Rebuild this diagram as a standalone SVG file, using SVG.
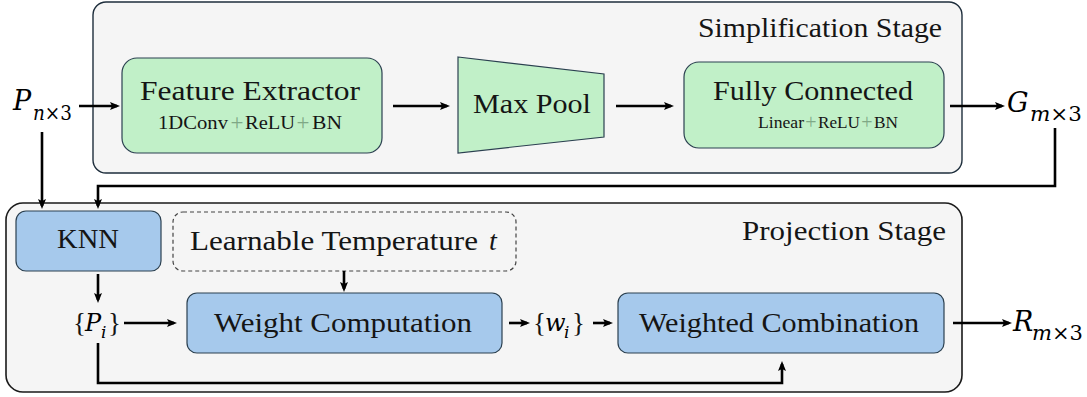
<svg xmlns="http://www.w3.org/2000/svg" width="1087" height="397" viewBox="0 0 1087 397" font-family="'Liberation Serif', 'DejaVu Serif', serif">
  <defs>
    <marker id="arr" viewBox="0 0 10 8" refX="7" refY="4" markerWidth="10" markerHeight="8" markerUnits="userSpaceOnUse" orient="auto">
      <path d="M0,0 L10,4 L0,8 L2,4 z" fill="#000"/>
    </marker>
    <style>
      .stage { fill: #f5f5f5; stroke: #1e2e3c; stroke-width: 1.4; }
      .stage2 { fill: #f5f5f5; stroke: #1a1a1a; stroke-width: 1.6; }
      .green { fill: #c1f0c8; stroke: #2b4050; stroke-width: 1.2; }
      .blue { fill: #a6c9ec; stroke: #2b4050; stroke-width: 1.2; }
      .dash { fill: none; stroke: #444; stroke-width: 1.2; stroke-dasharray: 4 3; }
      .lbl { fill: #151515; }
      .sub { fill: #151515; }
      .plus { fill: #7fa886; }
      .math { fill: #000; font-family: 'DejaVu Serif', 'Liberation Serif', serif; }
      .conn { fill: none; stroke: #000; stroke-width: 2.6; }
      .arr { marker-end: url(#arr); }
    </style>
  </defs>

  <!-- stage frames -->
  <g id="simplification-stage">
    <rect class="stage" x="93" y="2" width="869" height="171" rx="13"/>
    <text class="lbl" font-size="27" x="698" y="37" textLength="244" lengthAdjust="spacingAndGlyphs">Simplification Stage</text>
  </g>
  <g id="projection-stage">
    <rect class="stage2" x="6" y="203" width="956" height="189" rx="17"/>
    <text class="lbl" font-size="27" x="742" y="240" textLength="204" lengthAdjust="spacingAndGlyphs">Projection Stage</text>
  </g>

  <!-- simplification nodes -->
  <g id="feature-extractor">
    <rect class="green" x="122" y="58" width="260" height="95" rx="15"/>
    <text class="lbl" font-size="27" x="140" y="100" textLength="220" lengthAdjust="spacingAndGlyphs">Feature Extractor</text>
    <text class="sub" font-size="19" x="158" y="129" textLength="70" lengthAdjust="spacingAndGlyphs">1DConv</text>
    <text class="plus" font-size="23" x="237" y="130" text-anchor="middle">+</text>
    <text class="sub" font-size="19" x="245" y="129" textLength="50" lengthAdjust="spacingAndGlyphs">ReLU</text>
    <text class="plus" font-size="23" x="303" y="130" text-anchor="middle">+</text>
    <text class="sub" font-size="19" x="312" y="129" textLength="30" lengthAdjust="spacingAndGlyphs">BN</text>
  </g>
  <g id="max-pool">
    <polygon class="green" points="458,57 604,74 604,137 458,153"/>
    <text class="lbl" font-size="27" x="473" y="113" textLength="118" lengthAdjust="spacingAndGlyphs">Max Pool</text>
  </g>
  <g id="fully-connected">
    <rect class="green" x="684" y="62" width="260" height="86" rx="15"/>
    <text class="lbl" font-size="27" x="713" y="100" textLength="200" lengthAdjust="spacingAndGlyphs">Fully Connected</text>
    <text class="sub" font-size="17" x="758" y="128" textLength="46" lengthAdjust="spacingAndGlyphs">Linear</text>
    <text class="plus" font-size="20" x="811" y="129" text-anchor="middle">+</text>
    <text class="sub" font-size="17" x="818" y="128" textLength="42" lengthAdjust="spacingAndGlyphs">ReLU</text>
    <text class="plus" font-size="20" x="867" y="129" text-anchor="middle">+</text>
    <text class="sub" font-size="17" x="874" y="128" textLength="24" lengthAdjust="spacingAndGlyphs">BN</text>
  </g>

  <!-- projection nodes -->
  <g id="knn">
    <rect class="blue" x="16" y="211" width="145" height="60" rx="10"/>
    <text class="lbl" font-size="27" x="57" y="248" textLength="62" lengthAdjust="spacingAndGlyphs">KNN</text>
  </g>
  <g id="temperature">
    <rect class="dash" x="173" y="212" width="343" height="59" rx="10"/>
    <text class="lbl" font-size="27" x="190" y="250" textLength="288" lengthAdjust="spacingAndGlyphs">Learnable Temperature</text>
    <text class="lbl" font-size="28" font-style="italic" x="489" y="250">t</text>
  </g>
  <g id="weight-computation">
    <rect class="blue" x="187" y="293" width="315" height="60" rx="10"/>
    <text class="lbl" font-size="27" x="214" y="332" textLength="258" lengthAdjust="spacingAndGlyphs">Weight Computation</text>
  </g>
  <g id="weighted-combination">
    <rect class="blue" x="618" y="293" width="326" height="60" rx="10"/>
    <text class="lbl" font-size="27" x="639" y="332" textLength="280" lengthAdjust="spacingAndGlyphs">Weighted Combination</text>
  </g>

  <!-- data symbols -->
  <g id="input-points">
    <text class="math" font-size="27" font-style="italic" x="13" y="110">P</text>
    <text class="math" font-size="21" x="33" y="120" textLength="39" lengthAdjust="spacingAndGlyphs"><tspan font-style="italic">n</tspan>×3</text>
  </g>
  <g id="simplified-points">
    <text class="math" font-size="27" font-style="italic" x="1007" y="112">G</text>
    <text class="math" font-size="21" x="1030" y="121" textLength="52" lengthAdjust="spacingAndGlyphs"><tspan font-style="italic">m</tspan>×3</text>
  </g>
  <g id="result-points">
    <text class="math" font-size="27" font-style="italic" x="1013" y="331">R</text>
    <text class="math" font-size="21" x="1032" y="340" textLength="51" lengthAdjust="spacingAndGlyphs"><tspan font-style="italic">m</tspan>×3</text>
  </g>
  <g id="neighbors">
    <text class="lbl" font-size="27" x="73" y="332">{</text>
    <text class="math" font-size="24" font-style="italic" x="85" y="331">P</text>
    <text class="math" font-size="17" font-style="italic" x="101" y="338">i</text>
    <text class="lbl" font-size="27" x="108" y="332">}</text>
  </g>
  <g id="weights">
    <text class="lbl" font-size="27" x="533" y="332">{</text>
    <text class="math" font-size="24" font-style="italic" x="545" y="331">w</text>
    <text class="math" font-size="17" font-style="italic" x="564" y="338">i</text>
    <text class="lbl" font-size="27" x="572" y="332">}</text>
  </g>

  <!-- connectors -->
  <g id="connectors">
    <path class="conn arr" d="M79,106 H117"/>
    <path class="conn arr" d="M393,106 H447"/>
    <path class="conn arr" d="M616,106 H671"/>
    <path class="conn arr" d="M950,106 H1002"/>
    <path class="conn arr" d="M1055,128 V186 H98 V206"/>
    <path class="conn arr" d="M42,132 V206"/>
    <path class="conn arr" d="M98,274 V300"/>
    <path class="conn arr" d="M124,323 H174"/>
    <path class="conn arr" d="M344,271 V289"/>
    <path class="conn arr" d="M509,323 H527"/>
    <path class="conn arr" d="M593,323 H610"/>
    <path class="conn arr" d="M98,343 V383 H782 V364"/>
    <path class="conn arr" d="M953,323 H1009"/>
  </g>
</svg>
